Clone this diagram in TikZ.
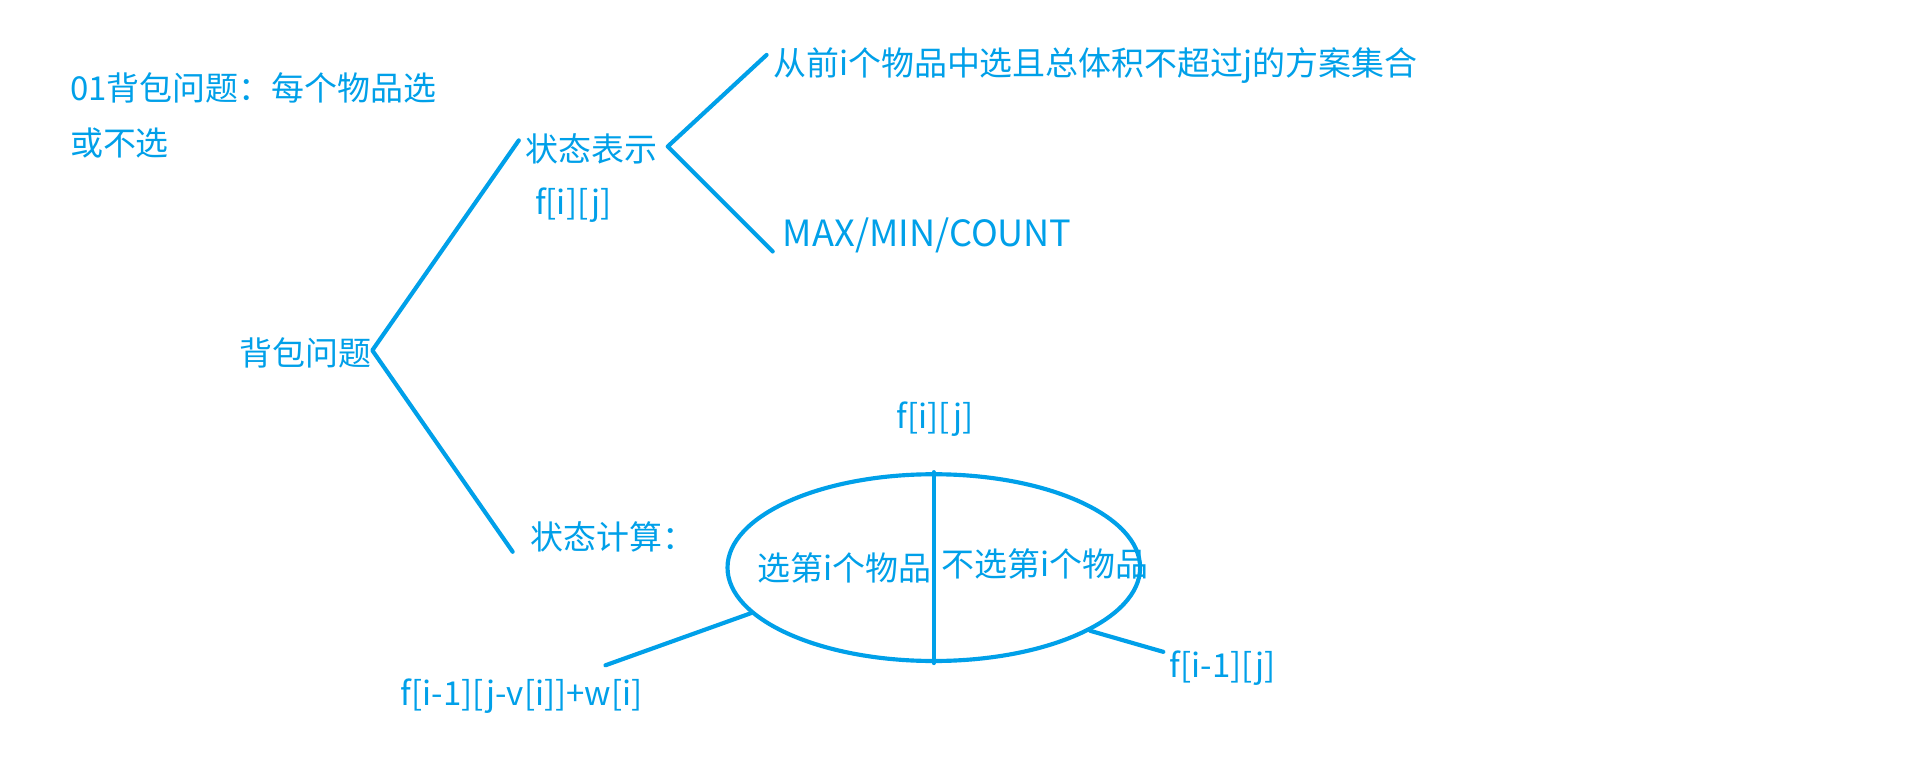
\documentclass[tikz,border=0pt]{standalone}
\usepackage{fontspec}
\setmainfont{Noto Sans CJK SC}
\usetikzlibrary{shapes.geometric}
\definecolor{ink}{RGB}{0,160,233}
\tikzset{
  txt/.style={inner sep=0pt, anchor=west, text=ink, font=\fontsize{13.5pt}{16pt}\selectfont},
  ctxt/.style={txt, anchor=center},
  stroke/.style={draw=ink, line width=1.7pt, line cap=round, line join=round},
}
\begin{document}
\begin{tikzpicture}[x=0.5pt,y=-0.5pt]
\useasboundingbox[fill=white] (0,0) rectangle (1568,634);

% heading
\node[txt] (title) at (57,72) {01背包问题：每个物品选};
\node[txt] (title2) at (57,117) {或不选};

% tree
\node[txt] (root) at (196,289) {背包问题};
\node[txt] (rep) at (430,122) {状态表示};
\node[txt] (repf) at (438,168) {f[i][j]};
\node[txt] (calc) at (434,440) {状态计算：};
\node[txt] (set) at (633,54) {从前i个物品中选且总体积不超过j的方案集合};
\node[txt, font=\fontsize{14.8pt}{17pt}\selectfont] (attr) at (641,193) {MAX/MIN/COUNT};

\coordinate (rootv) at (305,287);
\coordinate (repv) at (547,120);
\coordinate (repend) at (425,115);
\coordinate (calcend) at (420,452);
\coordinate (setend) at (628,45);
\coordinate (attrend) at (633,206);

\draw[stroke] (repend) -- (rootv) -- (calcend);
\draw[stroke] (setend) -- (repv) -- (attrend);

% state computation split
\node[ctxt] (fij) at (766,343) {f[i][j]};
\node[stroke, ellipse, minimum width=169pt, minimum height=76.5pt, inner sep=0pt] (ell) at (765,465) {};
\draw[stroke] (ell.north) -- (ell.south);
\node[txt] (take) at (620,465) {选第i个物品};
\node[txt] (skip) at (771,462) {不选第i个物品};

\node[txt] (opt1) at (328,570) {f[i-1][j-v[i]]+w[i]};
\node[txt] (opt0) at (958,547) {f[i-1][j]};
\coordinate (opt1end) at (496,545);
\coordinate (opt0end) at (953,534);

\draw[stroke] (ell.194) -- (opt1end);
\draw[stroke] (ell.-22) -- (opt0end);
\end{tikzpicture}
\end{document}
